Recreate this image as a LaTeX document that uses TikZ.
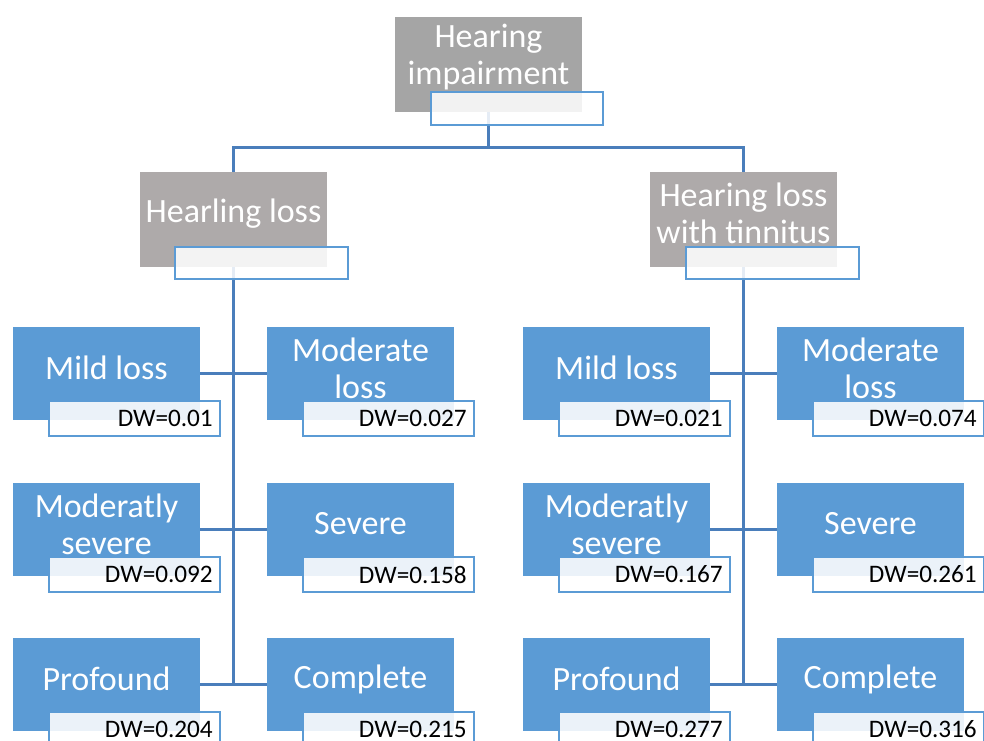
\documentclass[tikz,border=0pt]{standalone}
\usepackage{fontspec}
\setmainfont{Carlito}
\usetikzlibrary{calc}
\definecolor{blu}{HTML}{5B9BD5}
\definecolor{conncol}{HTML}{4A7EBB}
\definecolor{topgray}{HTML}{A5A5A5}
\definecolor{midgray}{HTML}{AEAAAA}
\pgfdeclarelayer{bg}
\pgfsetlayers{bg,main}
\newcommand\catbox[5]{%
  \node[bluebox] (#1) at (#2,#3) {};
  \node[wtext] (#1-t) at ($(#1.center)+(0,-5.5)$) {#4};
  \node[dwbox] (#1-d) at ($(#1.north west)+(36,74)$) {};
  \node[dwtext] (#1-v) at ($(#1-d.east)+(-7,0)$) {#5};
}
\begin{document}
\begin{tikzpicture}[x=0.75pt,y=-0.75pt,
  box/.style={rectangle,inner sep=0pt,outer sep=0pt,anchor=north west},
  graybox/.style={box,fill=midgray,minimum width=140.25pt,minimum height=71.25pt},
  labbox/.style={box,fill=white,fill opacity=0.86,draw=blu,line width=1.5pt,minimum width=129.75pt,minimum height=24pt},
  bluebox/.style={box,fill=blu,minimum width=140.25pt,minimum height=69.75pt},
  dwbox/.style={box,fill=white,fill opacity=0.88,draw=blu,line width=1.5pt,minimum width=128.25pt,minimum height=26.25pt},
  wtext/.style={text=white,align=center,inner sep=0pt,font=\fontsize{25.5}{27.75}\selectfont},
  dwtext/.style={text=black,anchor=east,inner sep=0pt,font=\fontsize{18.9}{22}\selectfont},
  conn/.style={draw=conncol,line width=2.25pt}]
\useasboundingbox (0,0) rectangle (984,740);
% level 0
\node[graybox,fill=topgray] (top) at (395,17) {};
\node[wtext] (top-t) at ($(top.center)+(0,-7)$) {Hearing\\impairment};
\node[labbox,minimum width=129pt,minimum height=24.75pt] (top-l) at (431,92) {};
% level 1
\node[graybox] (lg) at (140,172) {};
\node[wtext] (lg-t) at ($(lg.center)+(0,-6)$) {Hearling loss};
\node[labbox] (lg-l) at (175,247) {};
\node[graybox] (rg) at (650,172) {};
\node[wtext] (rg-t) at ($(rg.center)+(0,-6)$) {Hearing loss\\with tinnitus};
\node[labbox] (rg-l) at (686,247) {};
% level 2 left
\catbox{a1}{13}{327}{Mild loss}{DW=0.01}
\catbox{a2}{267}{327}{Moderate\\loss}{DW=0.027}
\catbox{a3}{13}{483}{Moderatly\\severe}{DW=0.092}
\catbox{a4}{267}{483}{Severe}{DW=0.158}
\catbox{a5}{13}{638}{Profound}{DW=0.204}
\catbox{a6}{267}{638}{Complete}{DW=0.215}
% level 2 right
\catbox{b1}{523}{327}{Mild loss}{DW=0.021}
\catbox{b2}{777}{327}{Moderate\\loss}{DW=0.074}
\catbox{b3}{523}{483}{Moderatly\\severe}{DW=0.167}
\catbox{b4}{777}{483}{Severe}{DW=0.261}
\catbox{b5}{523}{638}{Profound}{DW=0.277}
\catbox{b6}{777}{638}{Complete}{DW=0.316}
\begin{pgfonlayer}{bg}
\draw[conn] (top.south) -- ++(0,35) -| (lg.north);
\draw[conn] (top.south) -- ++(0,35) -| (rg.north);
\draw[conn] (lg.south) -- (lg.south |- a5.east);
\draw[conn] (rg.south) -- (rg.south |- b5.east);
\draw[conn] (a1.east) -- (a2.west);
\draw[conn] (a3.east) -- (a4.west);
\draw[conn] (a5.east) -- (a6.west);
\draw[conn] (b1.east) -- (b2.west);
\draw[conn] (b3.east) -- (b4.west);
\draw[conn] (b5.east) -- (b6.west);
\end{pgfonlayer}
\end{tikzpicture}
\end{document}
